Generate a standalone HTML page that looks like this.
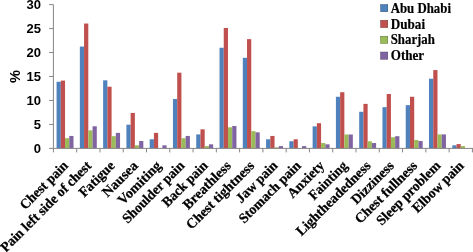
<!DOCTYPE html>
<html><head><meta charset="utf-8"><title>Chart</title>
<style>html,body{margin:0;padding:0;background:#fff}svg{display:block}</style></head>
<body>
<svg width="473" height="252" viewBox="0 0 473 252">
<rect width="473" height="252" fill="#fff"/>
<rect x="56.57" y="81.78" width="4.23" height="66.62" fill="#4F81BD"/>
<rect x="60.81" y="80.58" width="4.23" height="67.82" fill="#C0504D"/>
<rect x="65.04" y="138.19" width="4.23" height="10.21" fill="#9BBB59"/>
<rect x="69.27" y="135.94" width="4.23" height="12.46" fill="#8064A2"/>
<rect x="79.85" y="46.55" width="4.23" height="101.85" fill="#4F81BD"/>
<rect x="84.08" y="23.54" width="4.23" height="124.86" fill="#C0504D"/>
<rect x="88.32" y="130.33" width="4.23" height="18.07" fill="#9BBB59"/>
<rect x="92.55" y="126.26" width="4.23" height="22.14" fill="#8064A2"/>
<rect x="103.13" y="80.34" width="4.23" height="68.06" fill="#4F81BD"/>
<rect x="107.36" y="86.71" width="4.23" height="61.69" fill="#C0504D"/>
<rect x="111.59" y="136.18" width="4.23" height="12.22" fill="#9BBB59"/>
<rect x="115.83" y="132.87" width="4.23" height="15.53" fill="#8064A2"/>
<rect x="126.41" y="124.67" width="4.23" height="23.73" fill="#4F81BD"/>
<rect x="130.64" y="112.93" width="4.23" height="35.47" fill="#C0504D"/>
<rect x="134.87" y="145.33" width="4.23" height="3.07" fill="#9BBB59"/>
<rect x="139.11" y="141.02" width="4.23" height="7.38" fill="#8064A2"/>
<rect x="149.69" y="139.29" width="4.23" height="9.11" fill="#4F81BD"/>
<rect x="153.92" y="132.87" width="4.23" height="15.53" fill="#C0504D"/>
<rect x="162.38" y="145.33" width="4.23" height="3.07" fill="#8064A2"/>
<rect x="172.96" y="99.03" width="4.23" height="49.37" fill="#4F81BD"/>
<rect x="177.20" y="72.67" width="4.23" height="75.73" fill="#C0504D"/>
<rect x="181.43" y="138.19" width="4.23" height="10.21" fill="#9BBB59"/>
<rect x="185.66" y="135.94" width="4.23" height="12.46" fill="#8064A2"/>
<rect x="196.24" y="134.40" width="4.23" height="14.00" fill="#4F81BD"/>
<rect x="200.47" y="129.32" width="4.23" height="19.08" fill="#C0504D"/>
<rect x="204.71" y="146.10" width="4.23" height="2.30" fill="#9BBB59"/>
<rect x="208.94" y="144.33" width="4.23" height="4.07" fill="#8064A2"/>
<rect x="219.52" y="47.75" width="4.23" height="100.65" fill="#4F81BD"/>
<rect x="223.75" y="27.95" width="4.23" height="120.45" fill="#C0504D"/>
<rect x="227.98" y="127.31" width="4.23" height="21.09" fill="#9BBB59"/>
<rect x="232.22" y="126.02" width="4.23" height="22.38" fill="#8064A2"/>
<rect x="242.80" y="57.81" width="4.23" height="90.59" fill="#4F81BD"/>
<rect x="247.03" y="39.12" width="4.23" height="109.28" fill="#C0504D"/>
<rect x="251.26" y="131.15" width="4.23" height="17.25" fill="#9BBB59"/>
<rect x="255.50" y="132.34" width="4.23" height="16.06" fill="#8064A2"/>
<rect x="266.08" y="139.29" width="4.23" height="9.11" fill="#4F81BD"/>
<rect x="270.31" y="135.94" width="4.23" height="12.46" fill="#C0504D"/>
<rect x="274.54" y="147.35" width="4.23" height="1.05" fill="#9BBB59"/>
<rect x="278.77" y="146.10" width="4.23" height="2.30" fill="#8064A2"/>
<rect x="289.35" y="141.26" width="4.23" height="7.14" fill="#4F81BD"/>
<rect x="293.59" y="139.29" width="4.23" height="9.11" fill="#C0504D"/>
<rect x="302.05" y="146.10" width="4.23" height="2.30" fill="#8064A2"/>
<rect x="312.63" y="126.35" width="4.23" height="22.05" fill="#4F81BD"/>
<rect x="316.86" y="123.19" width="4.23" height="25.21" fill="#C0504D"/>
<rect x="321.10" y="143.03" width="4.23" height="5.37" fill="#9BBB59"/>
<rect x="325.33" y="144.33" width="4.23" height="4.07" fill="#8064A2"/>
<rect x="335.91" y="96.78" width="4.23" height="51.62" fill="#4F81BD"/>
<rect x="340.14" y="92.23" width="4.23" height="56.17" fill="#C0504D"/>
<rect x="344.38" y="134.50" width="4.23" height="13.90" fill="#9BBB59"/>
<rect x="348.61" y="134.50" width="4.23" height="13.90" fill="#8064A2"/>
<rect x="359.19" y="111.78" width="4.23" height="36.62" fill="#4F81BD"/>
<rect x="363.42" y="103.87" width="4.23" height="44.53" fill="#C0504D"/>
<rect x="367.65" y="141.26" width="4.23" height="7.14" fill="#9BBB59"/>
<rect x="371.89" y="143.03" width="4.23" height="5.37" fill="#8064A2"/>
<rect x="382.47" y="107.18" width="4.23" height="41.22" fill="#4F81BD"/>
<rect x="386.70" y="94.00" width="4.23" height="54.40" fill="#C0504D"/>
<rect x="390.93" y="137.23" width="4.23" height="11.17" fill="#9BBB59"/>
<rect x="395.16" y="136.18" width="4.23" height="12.22" fill="#8064A2"/>
<rect x="405.74" y="105.17" width="4.23" height="43.23" fill="#4F81BD"/>
<rect x="409.98" y="96.78" width="4.23" height="51.62" fill="#C0504D"/>
<rect x="414.21" y="140.01" width="4.23" height="8.39" fill="#9BBB59"/>
<rect x="418.44" y="141.02" width="4.23" height="7.38" fill="#8064A2"/>
<rect x="429.02" y="78.71" width="4.23" height="69.69" fill="#4F81BD"/>
<rect x="433.25" y="70.08" width="4.23" height="78.32" fill="#C0504D"/>
<rect x="437.49" y="134.40" width="4.23" height="14.00" fill="#9BBB59"/>
<rect x="441.72" y="134.40" width="4.23" height="14.00" fill="#8064A2"/>
<rect x="452.30" y="145.33" width="4.23" height="3.07" fill="#4F81BD"/>
<rect x="456.53" y="144.09" width="4.23" height="4.31" fill="#C0504D"/>
<rect x="460.76" y="146.10" width="4.23" height="2.30" fill="#9BBB59"/>
<g stroke="#868686" stroke-width="1" fill="none">
<line x1="53.4" y1="4.61" x2="53.4" y2="148.40"/>
<line x1="53.4" y1="148.4" x2="473" y2="148.4"/>
<line x1="49.199999999999996" y1="148.40" x2="53.4" y2="148.40"/>
<line x1="49.199999999999996" y1="124.44" x2="53.4" y2="124.44"/>
<line x1="49.199999999999996" y1="100.47" x2="53.4" y2="100.47"/>
<line x1="49.199999999999996" y1="76.51" x2="53.4" y2="76.51"/>
<line x1="49.199999999999996" y1="52.54" x2="53.4" y2="52.54"/>
<line x1="49.199999999999996" y1="28.58" x2="53.4" y2="28.58"/>
<line x1="49.199999999999996" y1="4.61" x2="53.4" y2="4.61"/>
<line x1="53.40" y1="148.4" x2="53.40" y2="152.4"/>
<line x1="76.68" y1="148.4" x2="76.68" y2="152.4"/>
<line x1="99.96" y1="148.4" x2="99.96" y2="152.4"/>
<line x1="123.23" y1="148.4" x2="123.23" y2="152.4"/>
<line x1="146.51" y1="148.4" x2="146.51" y2="152.4"/>
<line x1="169.79" y1="148.4" x2="169.79" y2="152.4"/>
<line x1="193.07" y1="148.4" x2="193.07" y2="152.4"/>
<line x1="216.35" y1="148.4" x2="216.35" y2="152.4"/>
<line x1="239.62" y1="148.4" x2="239.62" y2="152.4"/>
<line x1="262.90" y1="148.4" x2="262.90" y2="152.4"/>
<line x1="286.18" y1="148.4" x2="286.18" y2="152.4"/>
<line x1="309.46" y1="148.4" x2="309.46" y2="152.4"/>
<line x1="332.74" y1="148.4" x2="332.74" y2="152.4"/>
<line x1="356.01" y1="148.4" x2="356.01" y2="152.4"/>
<line x1="379.29" y1="148.4" x2="379.29" y2="152.4"/>
<line x1="402.57" y1="148.4" x2="402.57" y2="152.4"/>
<line x1="425.85" y1="148.4" x2="425.85" y2="152.4"/>
<line x1="449.13" y1="148.4" x2="449.13" y2="152.4"/>
<line x1="472.40" y1="148.4" x2="472.40" y2="152.4"/>
</g>
<g font-family="'Liberation Sans', sans-serif" font-weight="bold" font-size="13" fill="#000" text-anchor="end">
<text x="41" y="153.10">0</text>
<text x="41" y="129.13">5</text>
<text x="41" y="105.17">10</text>
<text x="41" y="81.21">15</text>
<text x="41" y="57.24">20</text>
<text x="41" y="33.28">25</text>
<text x="41" y="9.31">30</text>
</g>
<text transform="translate(20.1,83.0) rotate(-90)" font-family="'Liberation Sans', sans-serif" font-weight="bold" font-size="14.5" fill="#000">%</text>
<g font-family="'Liberation Serif', serif" font-weight="bold" font-size="14" fill="#000" stroke="#000" stroke-width="0.25" text-anchor="end">
<text transform="translate(68.94,166.50) rotate(-45) scale(0.9654,1)">Chest pain</text>
<text transform="translate(92.22,166.50) rotate(-45) scale(0.9689,1)">Pain left side of chest</text>
<text transform="translate(115.50,166.50) rotate(-45) scale(0.9831,1)">Fatigue</text>
<text transform="translate(138.77,166.50) rotate(-45) scale(1.0129,1)">Nausea</text>
<text transform="translate(162.05,166.50) rotate(-45) scale(1.0096,1)">Vomiting</text>
<text transform="translate(185.33,166.50) rotate(-45) scale(0.9677,1)">Shoulder pain</text>
<text transform="translate(208.61,166.50) rotate(-45) scale(0.9656,1)">Back pain</text>
<text transform="translate(231.88,166.50) rotate(-45) scale(0.9974,1)">Breathless</text>
<text transform="translate(255.16,166.50) rotate(-45) scale(0.9929,1)">Chest tightness</text>
<text transform="translate(278.44,166.50) rotate(-45) scale(0.9721,1)">Jaw pain</text>
<text transform="translate(301.72,166.50) rotate(-45) scale(0.9929,1)">Stomach pain</text>
<text transform="translate(325.00,166.50) rotate(-45) scale(0.9753,1)">Anxiety</text>
<text transform="translate(348.27,166.50) rotate(-45) scale(0.9574,1)">Fainting</text>
<text transform="translate(371.55,166.50) rotate(-45) scale(0.9886,1)">Lightheadedness</text>
<text transform="translate(394.83,166.50) rotate(-45) scale(0.9853,1)">Dizziness</text>
<text transform="translate(418.11,166.50) rotate(-45) scale(0.9879,1)">Chest fullness</text>
<text transform="translate(441.39,166.50) rotate(-45) scale(0.9832,1)">Sleep problem</text>
<text transform="translate(464.66,166.50) rotate(-45) scale(0.9798,1)">Elbow pain</text>
</g>
<g font-family="'Liberation Serif', serif" font-weight="bold" font-size="14" fill="#000" stroke="#000" stroke-width="0.2">
<rect x="380.4" y="4.35" width="7.5" height="7.5" fill="#4F81BD"/>
<text transform="translate(390.7,12.60) scale(0.918,1)">Abu Dhabi</text>
<rect x="380.4" y="20.22" width="7.5" height="7.5" fill="#C0504D"/>
<text transform="translate(390.7,28.53) scale(0.94,1)">Dubai</text>
<rect x="380.4" y="36.09" width="7.5" height="7.5" fill="#9BBB59"/>
<text transform="translate(390.7,44.46) scale(0.918,1)">Sharjah</text>
<rect x="380.4" y="51.96" width="7.5" height="7.5" fill="#8064A2"/>
<text transform="translate(390.7,60.39) scale(0.935,1)">Other</text>
</g>
</svg>
</body></html>
